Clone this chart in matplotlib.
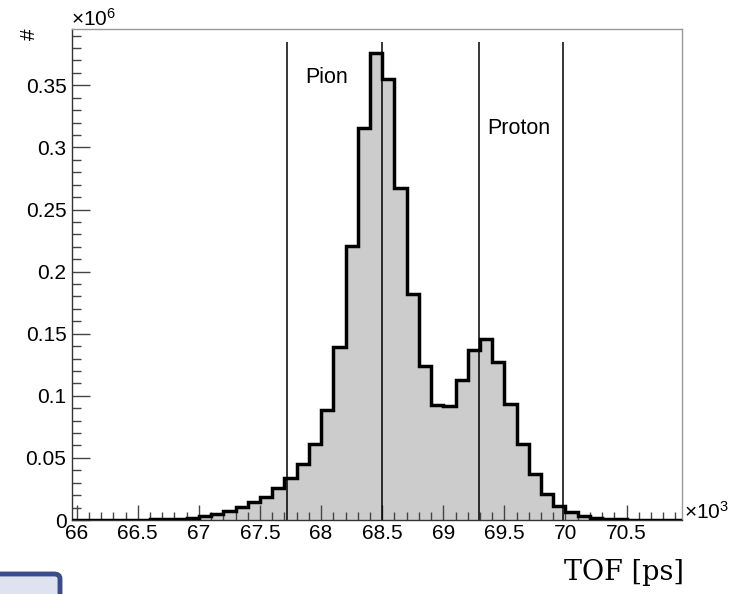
import numpy as np
import matplotlib
matplotlib.use("Agg")
import matplotlib.pyplot as plt
from matplotlib.patches import FancyBboxPatch
from matplotlib.ticker import MultipleLocator, FuncFormatter

# ---------------- data ----------------
# bin edges of the TOF histogram, in units of 10^3 ps
bin_edges = [65.9, 66.0, 66.1, 66.2, 66.3, 66.4, 66.5, 66.6, 66.7, 66.8, 66.9,
             67.0, 67.1, 67.2, 67.3, 67.4, 67.5, 67.6, 67.7, 67.8, 67.9,
             68.0, 68.1, 68.2, 68.3, 68.4, 68.5, 68.6, 68.7, 68.8, 68.9,
             69.0, 69.1, 69.2, 69.3, 69.4, 69.5, 69.6, 69.7, 69.8, 69.9,
             70.0, 70.1, 70.2, 70.3, 70.4, 70.5, 70.6, 70.7, 70.8, 70.9, 71.0]
# entries per bin
bin_counts = [50, 100, 100, 150, 200, 300, 400, 500, 700, 1100,
              1900, 3300, 5000, 7400, 10200, 14200, 18800, 25500, 34100, 44800,
              60900, 88500, 138900, 220600, 315600, 376300, 355400, 267600, 181600, 124000,
              92200, 91800, 112600, 136800, 145500, 127200, 93700, 61100, 37000, 20700,
              11500, 6200, 3500, 1900, 1100, 700, 400, 300, 200, 100, 100]
# selection cut positions (10^3 ps)
cut_lines = [67.72, 68.50, 69.29, 69.98]
cut_line_top = 385000
labels = ["Pion", "Proton"]

x_ticks = [66, 66.5, 67, 67.5, 68, 68.5, 69, 69.5, 70, 70.5]
y_ticks = [0, 0.05, 0.1, 0.15, 0.2, 0.25, 0.3, 0.35]

# ---------------- figure ----------------
plt.rcParams["font.family"] = ["Liberation Sans", "DejaVu Sans"]
plt.rcParams["mathtext.fontset"] = "custom"
plt.rcParams["mathtext.rm"] = "Liberation Sans"
plt.rcParams["mathtext.it"] = "Liberation Sans:italic"
plt.rcParams["mathtext.default"] = "rm"
W, H = 735, 594
fig = plt.figure(figsize=(W / 100, H / 100), dpi=100)

def fx(px):
    return px / W

def fy(py):
    return 1 - py / H

ax_l, ax_r, ax_t, ax_b = 72, 682.3, 29.3, 520
ax = fig.add_axes([fx(ax_l), fy(ax_b), (ax_r - ax_l) / W, (ax_b - ax_t) / H])

scale = 1e6
vals = np.array(bin_counts) / scale
edges = np.array(bin_edges)

ax.stairs(vals, edges, fill=True, facecolor="#cccccc", edgecolor="none", zorder=1)
ax.vlines(cut_lines, 0, cut_line_top / scale, colors="black", linewidth=1.1, zorder=2)
ax.stairs(vals, edges, fill=False, color="black", linewidth=2.5, zorder=3)

ax.set_xlim(65.9615, 70.956)
ax.set_ylim(0, 0.3951)

ax.set_xticks(x_ticks)
ax.set_yticks(y_ticks)
ax.xaxis.set_minor_locator(MultipleLocator(0.1))
ax.yaxis.set_minor_locator(MultipleLocator(0.01))
ax.xaxis.set_major_formatter(FuncFormatter(lambda v, p: f"{v:g}"))
ax.yaxis.set_major_formatter(FuncFormatter(lambda v, p: f"{v:g}"))

tick_col = "#444444"
ax.tick_params(axis="both", which="both", direction="in", colors=tick_col,
               labelcolor="black", labelsize=15, top=False, right=False)
ax.tick_params(axis="y", which="major", length=13, width=1, pad=4)
ax.tick_params(axis="y", which="minor", length=6.5, width=1)
ax.tick_params(axis="x", which="major", length=11, width=1, pad=3)
ax.tick_params(axis="x", which="minor", length=5.5, width=1)

for s in ["left", "bottom"]:
    ax.spines[s].set_color("#333333")
    ax.spines[s].set_linewidth(1.0)
for s in ["top", "right"]:
    ax.spines[s].set_color("#999999")
    ax.spines[s].set_linewidth(1.0)

# exponent labels
fig.text(fx(71), fy(26), r"$\times10^{6}$", fontsize=15, ha="left", va="baseline")
fig.text(fx(684), fy(519), r"$\times10^{3}$", fontsize=15, ha="left", va="baseline")

# y-axis title
fig.text(fx(29), fy(34), "#", fontsize=15, rotation=90, ha="center", va="center")

# particle labels
fig.text(fx(305), fy(83), labels[0], fontsize=15.5, ha="left", va="baseline")
fig.text(fx(487), fy(134), labels[1], fontsize=15.5, ha="left", va="baseline")

# x-axis title (serif)
fig.text(fx(683.5), fy(580), "TOF [ps]", fontsize=19.5, family="DejaVu Serif",
         ha="right", va="baseline")

# decorative box at bottom-left
box = FancyBboxPatch((fx(-20), fy(620)), fx(80), (620 - 574) / H,
                     boxstyle="round,pad=0,rounding_size=0.008",
                     transform=fig.transFigure, facecolor="#dfe3ef",
                     edgecolor="#3b4c8c", linewidth=3.5, clip_on=False)
fig.patches.append(box)

fig.savefig("out.png", dpi=100)
